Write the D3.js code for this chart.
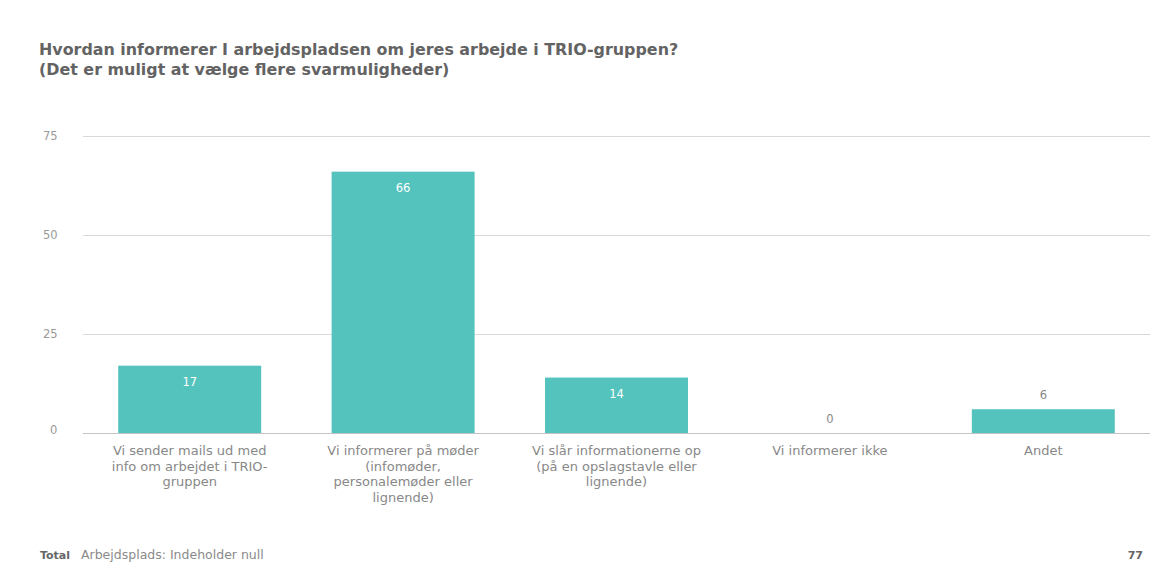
<!DOCTYPE html>
<html><head><meta charset="utf-8">
<script src="https://cdn.jsdelivr.net/npm/d3@7"></script>
<style>
html,body{margin:0;padding:0;background:#fff;}
svg{display:block;font-family:"DejaVu Sans",sans-serif;}
</style></head>
<body><svg id="c" width="1160" height="587"></svg>
<script>
const categories = [
  "Vi sender mails ud med info om arbejdet i TRIO-gruppen",
  "Vi informerer på møder (infomøder, personalemøder eller lignende)",
  "Vi slår informationerne op (på en opslagstavle eller lignende)",
  "Vi informerer ikke",
  "Andet"
];
const categoryLines = [
  ["Vi sender mails ud med","info om arbejdet i TRIO-","gruppen"],
  ["Vi informerer på møder","(infomøder,","personalemøder eller","lignende)"],
  ["Vi slår informationerne op","(på en opslagstavle eller","lignende)"],
  ["Vi informerer ikke"],
  ["Andet"]
];
const values = [17, 66, 14, 0, 6];
const yTicks = [0, 25, 50, 75];
const titleLines = ["Hvordan informerer I arbejdspladsen om jeres arbejde i TRIO-gruppen?","(Det er muligt at vælge flere svarmuligheder)"];
const totalValue = 77;

const svg = d3.select("#c");
const x = d3.scaleBand().domain(categories).range([83, 1150]).paddingInner(0.33).paddingOuter(0.165);
const y = d3.scaleLinear().domain([0, 75]).range([433, 136]);

// title
svg.append("g").selectAll("text").data(titleLines).join("text")
  .attr("x", 39).attr("y", (d,i)=>55 + i*20)
  .attr("font-size", 15.9).attr("font-weight", "bold").attr("fill", "#636363")
  .text(d=>d);

// grid
const yAxis = d3.axisLeft(y).tickValues(yTicks).tickSize(-(1150-83)).tickPadding(0);
const ga = svg.append("g").attr("transform","translate(83,0)").call(yAxis);
ga.select(".domain").remove();
ga.selectAll(".tick line").attr("stroke", d=> d===0 ? "#c4c4c4" : "#d9d9d9").attr("stroke-width",1);
ga.selectAll(".tick text").attr("x", d=> d===0 ? -33 : -40).attr("text-anchor","start")
  .attr("dy", d=> d===0 ? "0.05em" : "0.32em")
  .attr("font-size", 11.5).attr("fill", "#999").attr("font-family","DejaVu Sans, sans-serif");

// bars
svg.append("g").selectAll("rect").data(values).join("rect")
  .attr("x",(d,i)=>x(categories[i])).attr("width", x.bandwidth())
  .attr("y", d=>y(d)).attr("height", d=>y(0)-y(d))
  .attr("fill", "#55c3bd");

// value labels
svg.append("g").selectAll("text").data(values).join("text")
  .attr("x",(d,i)=>x(categories[i]) + x.bandwidth()/2)
  .attr("y", d=> (y(0)-y(d)) > 30 ? y(d)+20 : y(d)-10)
  .attr("text-anchor","middle").attr("font-size", 11.5)
  .attr("fill", d=> (y(0)-y(d)) > 30 ? "#fff" : "#888")
  .text(d=>d);

// category labels
const xl = svg.append("g");
categories.forEach((c,i)=>{
  const t = xl.append("text").attr("x", x(c)+x.bandwidth()/2).attr("y", 455)
    .attr("text-anchor","middle").attr("font-size", 13).attr("fill","#888");
  categoryLines[i].forEach((ln,j)=>{
    t.append("tspan").attr("x", x(c)+x.bandwidth()/2).attr("dy", j===0?0:15.5).text(ln);
  });
});

// footer
svg.append("text").attr("x",40).attr("y",559).attr("font-size",11).attr("font-weight","bold").attr("fill","#666").text("Total");
svg.append("text").attr("x",81).attr("y",559).attr("font-size",12.5).attr("fill","#8a8a8a").text("Arbejdsplads: Indeholder null");
svg.append("text").attr("x",1143).attr("y",559).attr("text-anchor","end").attr("font-size",11).attr("font-weight","bold").attr("fill","#666").text(totalValue);
</script></body></html>
